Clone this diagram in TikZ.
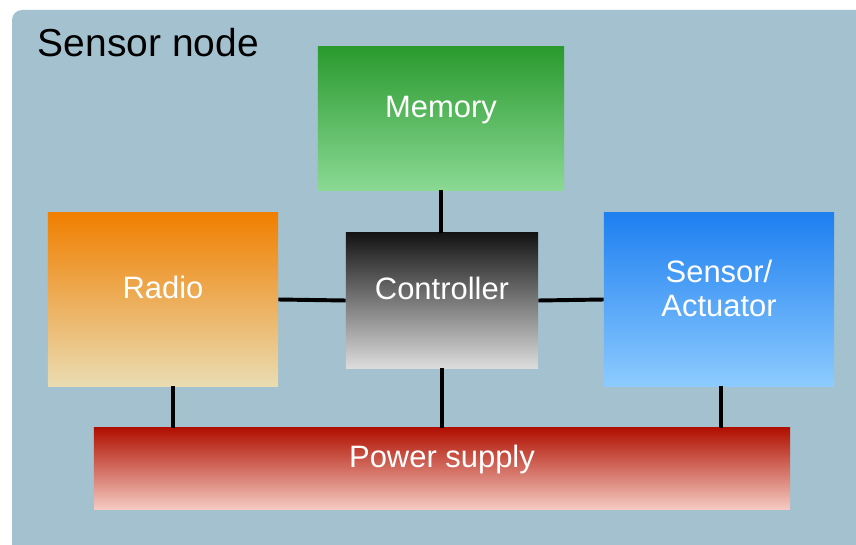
\documentclass[tikz,border=0pt]{standalone}
\usepackage{fontspec}
\setmainfont{Liberation Sans}
\usetikzlibrary{positioning}
\definecolor{bgblue}{HTML}{A3C1CE}
\definecolor{memtop}{HTML}{2A9A2E}
\definecolor{membot}{HTML}{8AD994}
\definecolor{radtop}{HTML}{F07F00}
\definecolor{radbot}{HTML}{EADCB2}
\definecolor{ctltop}{HTML}{141414}
\definecolor{ctlbot}{HTML}{DCDCDC}
\definecolor{sentop}{HTML}{1E7FF0}
\definecolor{senbot}{HTML}{8CCBFF}
\definecolor{pwrtop}{HTML}{B01000}
\definecolor{pwrbot}{HTML}{F5CAC2}

\begin{document}
\begin{tikzpicture}[x=0.025cm, y=-0.025cm,
  block/.style={inner sep=0pt, text=white, font=\fontsize{22}{24}\selectfont,
    text height=10pt, text depth=11pt, align=center},
  wire/.style={line width=2.8pt, black}]
\clip (0,0) rectangle (856,545);
\fill[bgblue, rounded corners=0.25cm] (12,10) rectangle (880,570);
\node[anchor=base west, font=\fontsize{27.7}{30}\selectfont] (title) at (33,57) {Sensor node};
%============
\node[block, top color=memtop, bottom color=membot, minimum width=6.15cm, minimum height=3.575cm] (Memory) at (441,118.5) {Memory};
\node[block, top color=radtop, bottom color=radbot, minimum width=5.75cm, minimum height=4.325cm] (Radio) at (163,299.5) {Radio};
\node[block, top color=ctltop, bottom color=ctlbot, minimum width=4.8cm, minimum height=3.375cm] (Controller) at (442,300.5) {Controller};
\node[block, top color=sentop, bottom color=senbot, minimum width=5.75cm, minimum height=4.325cm, text height=24pt, text depth=0pt] (Sensor) at (719,299.5) {Sensor/\\Actuator};
\node[block, top color=pwrtop, bottom color=pwrbot, minimum width=17.4cm, minimum height=2.025cm] (Power) at (442,468.5) {Power supply};
%==========
\draw[wire] (Memory.south) -- (Memory.south |- Controller.north);
\draw[wire] (Radio.east) -- (Controller.west);
\draw[wire] (Controller.east) -- (Sensor.west);
\draw[wire] (Controller.south) -- (Controller.south |- Power.north);
\draw[wire] ([xshift=0.25cm]Radio.south) -- ([xshift=0.25cm]Radio.south |- Power.north);
\draw[wire] ([xshift=0.05cm]Sensor.south) -- ([xshift=0.05cm]Sensor.south |- Power.north);
\end{tikzpicture}
\end{document}
